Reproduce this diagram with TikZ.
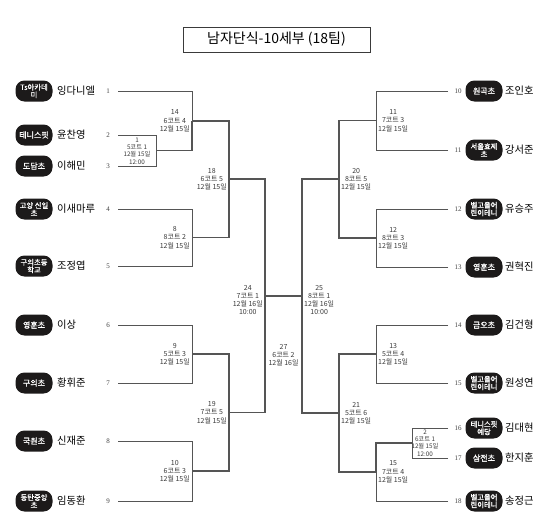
\documentclass[tikz,border=0pt]{standalone}
\usepackage{fontspec}
\setmainfont{Noto Sans CJK KR}
\newfontfamily\numfont{Liberation Serif}
\newfontfamily\badgefont[AutoFakeBold=1.2]{Noto Sans CJK KR}
\definecolor{badgecol}{HTML}{1C1A1A}
\definecolor{linecol}{HTML}{555555}
\definecolor{labcol}{HTML}{3A3A3A}
\definecolor{numcol}{HTML}{444444}
\begin{document}
\begin{tikzpicture}[x=1pt,y=-1pt,
  badge/.style={fill=badgecol, text=white, rounded corners=9pt, minimum width=37pt, minimum height=21pt, inner sep=1pt, font=\badgefont\bfseries\fontsize{7.3}{7.6}\selectfont, align=center},
  badgeone/.style={badge, font=\badgefont\bfseries\fontsize{8}{8}\selectfont},
  pname/.style={anchor=west, font=\fontsize{10.3}{11}\selectfont, text=black, inner sep=0pt},
  pnum/.style={font=\numfont\fontsize{7}{8}\selectfont, text=numcol, inner sep=0pt},
  mlab/.style={font=\fontsize{7}{8.3}\selectfont, text=labcol, align=center, inner sep=0pt},
  msmall/.style={font=\fontsize{6.3}{7.3}\selectfont, text=labcol, align=center, inner sep=0pt},
  br/.style={draw=linecol, line width=1.1pt},
  pl/.style={draw=linecol, line width=0.9pt}]
\useasboundingbox[fill=white] (0,0) rectangle (550,530);

% title
\node[draw=labcol, line width=0.8pt, minimum width=187pt, minimum height=25pt, inner sep=0pt, font=\fontsize{14}{14}\selectfont] (title) at (276.5,39.5) {남자단식-10세부 (18팀)};

% ---------- left players ----------
\node[badge] (b1) at (34,91) {Ts아카데\\미};   \node[pname] (nm1) at (57,91) {잉다니엘};   \node[pnum] (n1) at (108,91) {1};
\node[badgeone] (b2) at (34,135) {테니스핏};   \node[pname] (nm2) at (57,135) {윤찬영};    \node[pnum] (n2) at (108,135) {2};
\node[badgeone] (b3) at (34,166) {도담초};     \node[pname] (nm3) at (57,166) {이해민};    \node[pnum] (n3) at (108,166) {3};
\node[badge] (b4) at (34,209) {고양 신일\\초}; \node[pname] (nm4) at (57,209) {이새마루};  \node[pnum] (n4) at (108,209) {4};
\node[badge] (b5) at (34,266) {구의초등\\학교};\node[pname] (nm5) at (57,266) {조정엽};    \node[pnum] (n5) at (108,266) {5};
\node[badgeone] (b6) at (34,325) {영훈초};     \node[pname] (nm6) at (57,325) {이상};      \node[pnum] (n6) at (108,325) {6};
\node[badgeone] (b7) at (34,383) {구의초};     \node[pname] (nm7) at (57,383) {황휘준};    \node[pnum] (n7) at (108,383) {7};
\node[badgeone] (b8) at (34,441) {국원초};     \node[pname] (nm8) at (57,441) {신재준};    \node[pnum] (n8) at (108,441) {8};
\node[badge] (b9) at (34,501) {동탄중앙\\초};  \node[pname] (nm9) at (57,501) {임동환};    \node[pnum] (n9) at (108,501) {9};

% ---------- right players ----------
\node[pnum] (n10) at (458,91) {10};  \node[badgeone] (b10) at (484,91) {원곡초};      \node[pname] (nm10) at (505,91) {조인호};
\node[pnum] (n11) at (458,150) {11}; \node[badge] (b11) at (484,150) {서울효제\\초};  \node[pname] (nm11) at (505,150) {강서준};
\node[pnum] (n12) at (458,209) {12}; \node[badge] (b12) at (484,209) {벨고을어\\린이테니}; \node[pname] (nm12) at (505,209) {유승주};
\node[pnum] (n13) at (458,267) {13}; \node[badgeone] (b13) at (484,267) {영훈초};     \node[pname] (nm13) at (505,267) {권혁진};
\node[pnum] (n14) at (458,325) {14}; \node[badgeone] (b14) at (484,325) {금오초};     \node[pname] (nm14) at (505,325) {김건형};
\node[pnum] (n15) at (458,383) {15}; \node[badge] (b15) at (484,383) {벨고을어\\린이테니}; \node[pname] (nm15) at (505,383) {원성연};
\node[pnum] (n16) at (458,428) {16}; \node[badge] (b16) at (484,428) {테니스핏\\예당}; \node[pname] (nm16) at (505,428) {김대현};
\node[pnum] (n17) at (458,458) {17}; \node[badgeone] (b17) at (484,458) {삼전초};     \node[pname] (nm17) at (505,458) {한지훈};
\node[pnum] (n18) at (458,501) {18}; \node[badge] (b18) at (484,501) {벨고을어\\린이테니}; \node[pname] (nm18) at (505,501) {송정근};

% ---------- line start points ----------
\coordinate (p1) at (118,91);  \coordinate (p2) at (118,135); \coordinate (p3) at (118,166);
\coordinate (p4) at (118,209); \coordinate (p5) at (118,266); \coordinate (p6) at (118,325);
\coordinate (p7) at (118,383); \coordinate (p8) at (118,441); \coordinate (p9) at (118,501);
\coordinate (p10) at (448,91);  \coordinate (p11) at (448,150); \coordinate (p12) at (448,209);
\coordinate (p13) at (448,267); \coordinate (p14) at (448,325); \coordinate (p15) at (448,383);
\coordinate (p16) at (448,428); \coordinate (p17) at (448,458); \coordinate (p18) at (448,501);

% ---------- match points ----------
\coordinate (m1)  at (156,150.5);
\coordinate (m14) at (192,121);
\coordinate (m8)  at (192,237.5);
\coordinate (m18) at (229,179);
\coordinate (m9)  at (192,354);
\coordinate (m10) at (192,471);
\coordinate (m19) at (229,412.5);
\coordinate (m24) at (265,296);
\coordinate (m11) at (376,120.5);
\coordinate (m12) at (376,238);
\coordinate (m20) at (339,179);
\coordinate (m13) at (376,354);
\coordinate (m2)  at (412,443);
\coordinate (m15) at (376,472);
\coordinate (m21) at (339,413);
\coordinate (m25) at (302,296);

% ---------- connectors ----------
\draw[pl] (p1) -| (m14);
\draw[pl] (p2) -| (m1);  \draw[pl] (p3) -| (m1);
\draw[pl] (p4) -| (m8);  \draw[pl] (p5) -| (m8);
\draw[pl] (p6) -| (m9);  \draw[pl] (p7) -| (m9);
\draw[pl] (p8) -| (m10); \draw[pl] (p9) -| (m10);
\draw[br] (m1) -| (m14);
\draw[br] (m14) -| (m18); \draw[br] (m8) -| (m18);
\draw[br] (m9) -| (m19);  \draw[br] (m10) -| (m19);
\draw[br] (m18) -| (m24); \draw[br] (m19) -| (m24);
\draw[br] (m24) -- (m25);
\draw[pl] (p10) -| (m11); \draw[pl] (p11) -| (m11);
\draw[pl] (p12) -| (m12); \draw[pl] (p13) -| (m12);
\draw[pl] (p14) -| (m13); \draw[pl] (p15) -| (m13);
\draw[pl] (p16) -| (m2);  \draw[pl] (p17) -| (m2);
\draw[pl] (p18) -| (m15);
\draw[br] (m2) -| (m15);
\draw[br] (m11) -| (m20); \draw[br] (m12) -| (m20);
\draw[br] (m13) -| (m21); \draw[br] (m15) -| (m21);
\draw[br] (m20) -| (m25); \draw[br] (m21) -| (m25);

% ---------- match labels ----------
\node[msmall] (l1) at (137,151) {1\\5코트 1\\12월 15일\\12:00};
\node[mlab, anchor=east] (l14) at (190,121) {14\\6코트 4\\12월 15일};
\node[mlab, anchor=east] (l8) at (190,237.5) {8\\8코트 2\\12월 15일};
\node[mlab, anchor=east] (l9) at (190,354) {9\\5코트 3\\12월 15일};
\node[mlab, anchor=east] (l10) at (190,471) {10\\6코트 3\\12월 15일};
\node[mlab, anchor=east] (l18) at (227,179) {18\\6코트 5\\12월 15일};
\node[mlab, anchor=east] (l19) at (227,412.5) {19\\7코트 5\\12월 15일};
\node[mlab, anchor=east] (l24) at (263,300) {24\\7코트 1\\12월 16일\\10:00};
\node[mlab] (l27) at (283.5,355) {27\\6코트 2\\12월 16일};
\node[mlab, anchor=west] (l25) at (304,300) {25\\8코트 1\\12월 16일\\10:00};
\node[mlab, anchor=west] (l20) at (341,179) {20\\8코트 5\\12월 15일};
\node[mlab, anchor=west] (l21) at (341,413) {21\\5코트 6\\12월 15일};
\node[mlab, anchor=west] (l11) at (378,120.5) {11\\7코트 3\\12월 15일};
\node[mlab, anchor=west] (l12) at (378,238) {12\\8코트 3\\12월 15일};
\node[mlab, anchor=west] (l13) at (378,354) {13\\5코트 4\\12월 15일};
\node[mlab, anchor=west] (l15) at (378,472) {15\\7코트 4\\12월 15일};
\node[msmall] (l2) at (425,443) {2\\6코트 1\\12월 15일\\12:00};
\end{tikzpicture}
\end{document}
